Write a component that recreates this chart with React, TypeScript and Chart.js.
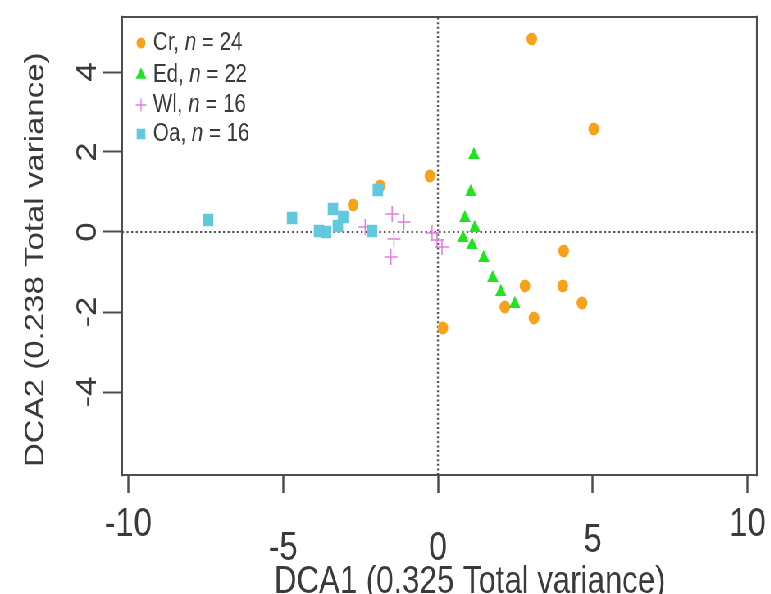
import React, { useEffect, useRef } from 'react';
import { Chart, registerables } from 'chart.js';
import { drawPoint } from 'chart.js/helpers';

Chart.register(...registerables);

const FONT = "'Liberation Sans', Arial, sans-serif";
const TEXT_COLOR = '#3a3a3a';

// horizontal condensing of the whole figure (narrow-font look)
const S = 0.82;
const PAGE_W = 771;
const PAGE_H = 594;
const CW = PAGE_W / S;
const hx = (p: number) => p / S; // page px -> canvas px (horizontal)

// Axis ranges and ticks
const X_MIN = -10.2;
const X_MAX = 10.3;
const Y_MIN = -6.075;
const Y_MAX = 5.375;
const xTicks = [-10, -5, 0, 5, 10];
const yTicks = [-4, -2, 0, 2, 4];
const xTickDrop = [0, 3, 3, 2, 0]; // staggered label rows

// Series
const groupNames = ['Cr', 'Ed', 'Wl', 'Oa'];
const groupN = [24, 22, 16, 16];
const groupColors = ['#F8A21C', '#1FE41F', '#E27CE2', '#62C8DD'];

const crX = [3.03, 5.03, -0.26, -1.87, -2.74, 4.06, 4.03, 2.81, 4.65, 2.16, 3.10, 0.16];
const crY = [4.825, 2.575, 1.4, 1.15, 0.675, -0.475, -1.35, -1.35, -1.775, -1.875, -2.15, -2.4];

const edX = [1.16, 1.06, 0.87, 1.19, 0.81, 1.10, 1.48, 1.77, 2.03, 2.48];
const edY = [1.925, 1.0, 0.35, 0.1, -0.15, -0.325, -0.65, -1.15, -1.5, -1.8];

const wlX = [-1.48, -1.10, -2.35, -1.42, -1.52, -0.19, -0.03, 0.13];
const wlY = [0.45, 0.25, 0.125, -0.175, -0.625, -0.025, -0.2, -0.375];

const oaX = [-7.42, -4.71, -3.39, -3.06, -1.94, -3.84, -3.61, -3.23, -2.13];
const oaY = [0.3, 0.35, 0.575, 0.375, 1.05, 0.025, 0.0, 0.15, 0.025];

const toPts = (xs: number[], ys: number[]) => xs.map((x, i) => ({ x, y: ys[i] }));

const boxPlugin = {
  id: 'boxPlugin',
  afterDraw(chart: any) {
    const { ctx, chartArea: a } = chart;
    ctx.save();
    ctx.strokeStyle = '#4d4d4d';
    ctx.lineCap = 'square';
    ctx.lineWidth = 2;
    ctx.beginPath();
    ctx.moveTo(a.left, a.top);
    ctx.lineTo(a.right, a.top);
    ctx.moveTo(a.left, a.bottom);
    ctx.lineTo(a.right, a.bottom);
    ctx.stroke();
    ctx.lineWidth = 2 / S;
    ctx.beginPath();
    ctx.moveTo(a.left, a.top);
    ctx.lineTo(a.left, a.bottom);
    ctx.moveTo(a.right, a.top);
    ctx.lineTo(a.right, a.bottom);
    ctx.stroke();
    ctx.restore();
  },
};

const legendStyles = [
  { pointStyle: 'circle', radius: 5.5, borderWidth: 0 },
  { pointStyle: 'triangle', radius: 7.5, borderWidth: 0 },
  { pointStyle: 'cross', radius: 6.5, borderWidth: 1.3 },
  { pointStyle: 'rect', radius: 7.5, borderWidth: 0 },
];
const legendRowsY = [43, 75, 105, 134];

const legendPlugin = {
  id: 'customLegend',
  afterDraw(chart: any) {
    const { ctx } = chart;
    ctx.save();
    groupNames.forEach((name, i) => {
      const y = legendRowsY[i];
      ctx.fillStyle = groupColors[i];
      ctx.strokeStyle = groupColors[i];
      ctx.lineWidth = legendStyles[i].borderWidth;
      drawPoint(ctx, { ...legendStyles[i], rotation: 0 } as any, hx(141), y);
      ctx.fillStyle = TEXT_COLOR;
      ctx.textBaseline = 'middle';
      ctx.textAlign = 'left';
      let x = hx(153);
      const parts: [string, string][] = [
        [name + ', ', 'normal'],
        ['n', 'italic'],
        [' = ' + groupN[i], 'normal'],
      ];
      parts.forEach(([t, style]) => {
        ctx.font = `${style} 25px ${FONT}`;
        ctx.fillText(t, x, y);
        x += ctx.measureText(t).width;
      });
    });
    ctx.restore();
  },
};

export default function App() {
  const ref = useRef<HTMLCanvasElement | null>(null);
  useEffect(() => {
    if (!ref.current) return;
    const chart = new Chart(ref.current, {
      type: 'scatter',
      data: {
        datasets: [
          {
            label: 'zeroH', data: [{ x: X_MIN, y: 0 }, { x: X_MAX, y: 0 }], showLine: true,
            borderColor: '#555555', borderWidth: 2, borderDash: [2.4, 3.2], pointRadius: 0, order: 10,
          } as any,
          {
            label: 'zeroV', data: [{ x: 0, y: Y_MIN }, { x: 0, y: Y_MAX }], showLine: true,
            borderColor: '#555555', borderWidth: 2 / S, borderDash: [2, 2.6], pointRadius: 0, order: 10,
          } as any,
          {
            label: groupNames[0], data: toPts(crX, crY), pointStyle: 'circle', pointRadius: 6.5,
            pointBackgroundColor: groupColors[0], pointBorderWidth: 0, order: 4,
          },
          {
            label: groupNames[1], data: toPts(edX, edY), pointStyle: 'triangle', pointRadius: 8,
            pointBackgroundColor: groupColors[1], pointBorderWidth: 0, order: 3,
          },
          {
            label: groupNames[2], data: toPts(wlX, wlY), pointStyle: 'cross', pointRadius: 8,
            pointBorderColor: groupColors[2], pointBorderWidth: 1.5, order: 2,
          },
          {
            label: groupNames[3], data: toPts(oaX, oaY), pointStyle: 'rect', pointRadius: 9,
            pointBackgroundColor: groupColors[3], pointBorderWidth: 0, order: 1,
          },
        ],
      },
      options: {
        animation: false,
        responsive: true,
        maintainAspectRatio: false,
        events: [],
        layout: { padding: { top: 17, right: CW - hx(757), left: 0, bottom: 0 } },
        plugins: { legend: { display: false }, tooltip: { enabled: false } },
        scales: {
          x: {
            type: 'linear',
            min: X_MIN,
            max: X_MAX,
            afterBuildTicks: (s: any) => { s.ticks = xTicks.map((v) => ({ value: v })); },
            afterFit: (s: any) => {
              s.height = PAGE_H - 475;
              s.paddingLeft = 0;
              s.paddingRight = 0;
            },
            grid: { drawOnChartArea: false, drawTicks: true, tickLength: 18, tickColor: '#4a4a4a', tickWidth: 2 / S },
            border: { display: false },
            ticks: {
              autoSkip: false,
              maxRotation: 0,
              minRotation: 0,
              padding: 28,
              color: TEXT_COLOR,
              font: { family: FONT, size: 40, lineHeight: '8px' },
              callback: (v: any) => {
                const k = xTicks.indexOf(Number(v));
                const drop = k >= 0 ? xTickDrop[k] : 0;
                return [...Array(drop).fill(''), String(v)];
              },
            },
            title: {
              display: true,
              text: '       DCA1 (0.325 Total variance)',
              color: TEXT_COLOR,
              font: { family: FONT, size: 38, lineHeight: '22px' },
              padding: 0,
            },
          },
          y: {
            type: 'linear',
            min: Y_MIN,
            max: Y_MAX,
            afterBuildTicks: (s: any) => { s.ticks = yTicks.map((v) => ({ value: v })); },
            afterFit: (s: any) => {
              s.width = hx(122);
              s.paddingTop = 0;
              s.paddingBottom = 0;
            },
            grid: { drawOnChartArea: false, drawTicks: true, tickLength: hx(19), tickColor: '#4a4a4a', tickWidth: 2 },
            border: { display: false },
            ticks: {
              autoSkip: false,
              minRotation: 90,
              maxRotation: 90,
              crossAlign: 'center',
              padding: 3,
              color: TEXT_COLOR,
              font: { family: FONT, size: 35 },
              callback: (v: any) => String(v),
            },
            title: {
              display: true,
              text: 'DCA2 (0.238 Total variance)   ',
              color: TEXT_COLOR,
              font: { family: FONT, size: 33, lineHeight: '20px' },
              padding: { top: hx(36) - 10, bottom: 0 },
            },
          },
        },
      },
      plugins: [boxPlugin, legendPlugin],
    } as any);
    return () => chart.destroy();
  }, []);

  return (
    <div
      style={{
        position: 'fixed',
        left: 0,
        top: 0,
        width: CW,
        height: PAGE_H,
        background: '#fff',
        transform: `scaleX(${S})`,
        transformOrigin: '0 0',
      }}
    >
      <canvas ref={ref} />
    </div>
  );
}
